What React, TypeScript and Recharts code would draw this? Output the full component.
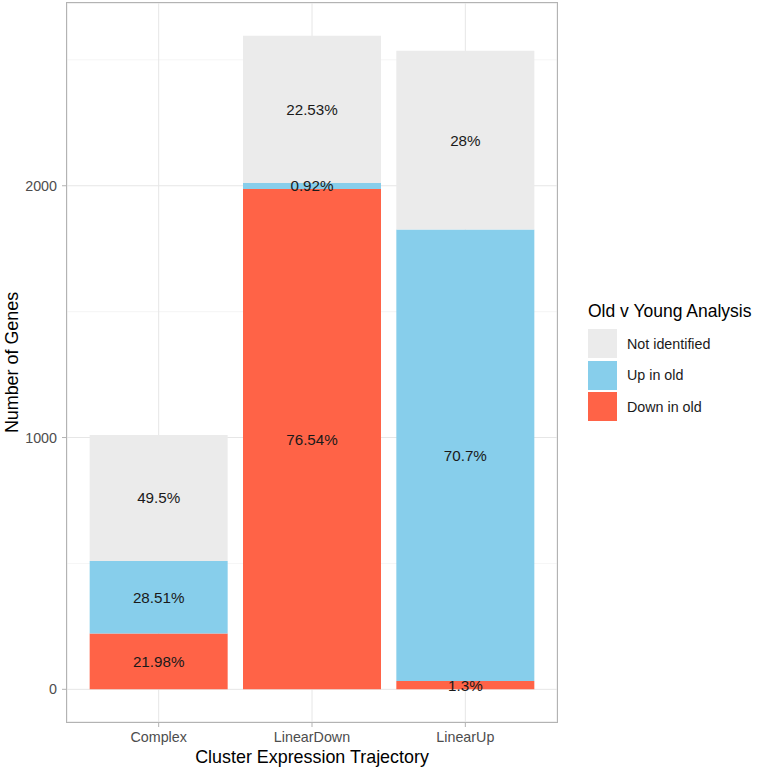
import React from "react";
import {
  BarChart,
  Bar,
  XAxis,
  YAxis,
  CartesianGrid,
  LabelList,
} from "recharts";

// counts per trajectory cluster
const categories = ["Complex", "LinearDown", "LinearUp"];
const downInOld = [222, 1987, 33];
const upInOld = [288, 24, 1793];
const notIdentified = [500, 585, 710];

// percentage labels as printed on the bars
const downLabels = ["21.98%", "76.54%", "1.3%"];
const upLabels = ["28.51%", "0.92%", "70.7%"];
const notLabels = ["49.5%", "22.53%", "28%"];

const yTicks = [0, 1000, 2000];
const yMinorTicks = [500, 1500, 2500];

const legendItems = [
  { name: "Not identified", color: "#EBEBEB" },
  { name: "Up in old", color: "#87CEEB" },
  { name: "Down in old", color: "#FF6347" },
];

const data = categories.map((c, i) => ({
  cluster: c,
  down: downInOld[i],
  up: upInOld[i],
  not: notIdentified[i],
  downLabel: downLabels[i],
  upLabel: upLabels[i],
  notLabel: notLabels[i],
}));

const maxTotal = Math.max(...data.map((d) => d.down + d.up + d.not));
const pad = maxTotal * 0.05;
const domain: [number, number] = [-pad, maxTotal + pad];

const font = "'Liberation Sans', Arial, sans-serif";
const labelStyle = { fontSize: 15.2, fill: "#1a1a1a", fontFamily: font };
const tickStyle = { fontSize: 14.3, fill: "#4d4d4d", fontFamily: font };

// plot panel box (chart margins below are derived from it)
const panel = { left: 67, top: 3, right: 557, bottom: 722 };

export default function App() {
  return (
    <div
      style={{
        position: "absolute",
        left: 0,
        top: 0,
        width: 758,
        height: 770,
        background: "#fff",
        fontFamily: font,
      }}
    >
      <BarChart
        width={758}
        height={770}
        data={data}
        margin={{ top: panel.top, right: 758 - panel.right, bottom: 0, left: 0 }}
        barCategoryGap="5%"
      >
        <YAxis
          yAxisId="minor"
          hide
          type="number"
          domain={domain}
          ticks={yMinorTicks}
          allowDataOverflow
        />
        <CartesianGrid
          yAxisId="minor"
          vertical={false}
          stroke="#f3f3f3"
          strokeWidth={0.8}
        />
        <CartesianGrid stroke="#e6e6e6" strokeWidth={1} />
        <XAxis
          dataKey="cluster"
          height={770 - panel.bottom}
          padding={{ left: 15, right: 15 }}
          axisLine={false}
          tickLine={{ stroke: "#b3b3b3" }}
          tickSize={5}
          tickMargin={4.5}
          tick={tickStyle}
          label={{
            value: "Cluster Expression Trajectory",
            position: "insideBottom",
            offset: 7.5,
            style: { fontSize: 17.9, fill: "#000", fontFamily: font },
          }}
        />
        <YAxis
          type="number"
          width={panel.left}
          domain={domain}
          ticks={yTicks}
          allowDataOverflow
          axisLine={false}
          tickLine={{ stroke: "#b3b3b3" }}
          tickSize={5}
          tickMargin={5}
          tick={tickStyle}
          label={{
            value: "Number of Genes",
            angle: -90,
            position: "insideLeft",
            offset: 12,
            style: {
              fontSize: 17.9,
              fill: "#000",
              fontFamily: font,
              textAnchor: "middle",
            },
          }}
        />
        <Bar dataKey="down" stackId="a" fill="#FF6347" isAnimationActive={false}>
          <LabelList dataKey="downLabel" position="center" style={labelStyle} />
        </Bar>
        <Bar dataKey="up" stackId="a" fill="#87CEEB" isAnimationActive={false}>
          <LabelList dataKey="upLabel" position="center" style={labelStyle} />
        </Bar>
        <Bar dataKey="not" stackId="a" fill="#EBEBEB" isAnimationActive={false}>
          <LabelList dataKey="notLabel" position="center" style={labelStyle} />
        </Bar>
      </BarChart>

      {/* panel border, like theme_light */}
      <div
        style={{
          position: "absolute",
          left: panel.left - 0.65,
          top: panel.top - 0.65,
          width: panel.right - panel.left + 1.3,
          height: panel.bottom - panel.top + 1.3,
          boxSizing: "border-box",
          border: "1.3px solid #b3b3b3",
          pointerEvents: "none",
        }}
      />

      <div style={{ position: "absolute", left: 588, top: 300 }}>
        <div style={{ fontSize: 17.5, color: "#000", lineHeight: "22px", marginBottom: 7 }}>
          Old v Young Analysis
        </div>
        {legendItems.map((item) => (
          <div
            key={item.name}
            style={{ display: "flex", alignItems: "center", height: 29, marginBottom: 2.5 }}
          >
            <div style={{ width: 29, height: 29, background: item.color }} />
            <span style={{ marginLeft: 10, fontSize: 14.3, color: "#1a1a1a" }}>{item.name}</span>
          </div>
        ))}
      </div>
    </div>
  );
}
